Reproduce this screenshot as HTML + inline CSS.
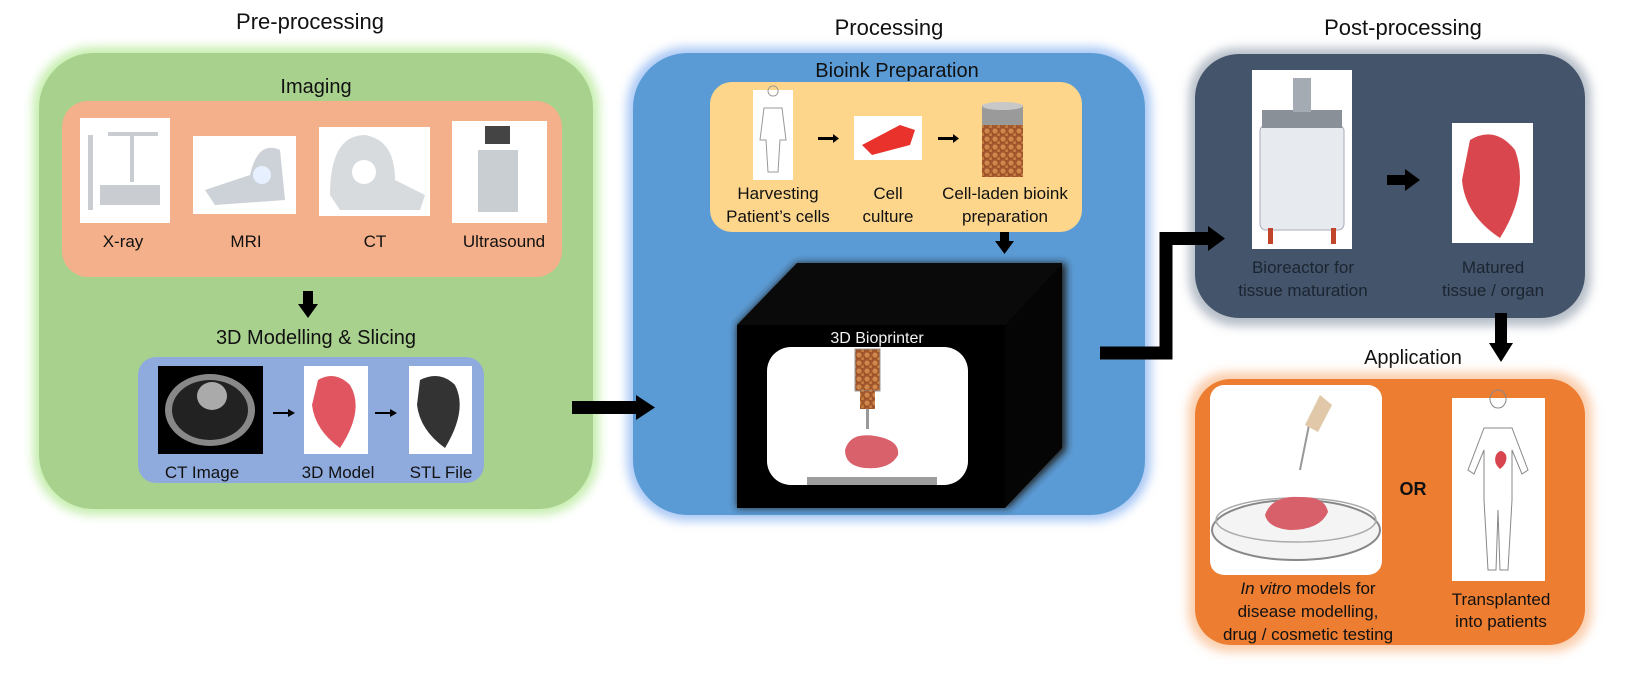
<!DOCTYPE html>
<html><head><meta charset="utf-8"><style>
html,body{margin:0;padding:0;background:#fff;}
svg{display:block;font-family:"Liberation Sans",sans-serif;}
</style></head><body>
<svg width="1630" height="680" viewBox="0 0 1630 680" xmlns="http://www.w3.org/2000/svg">
<defs>
<filter id="glow" x="-10%" y="-10%" width="120%" height="120%"><feGaussianBlur stdDeviation="5"/></filter>
<filter id="sh" x="-10%" y="-10%" width="120%" height="120%"><feGaussianBlur stdDeviation="4"/></filter>
<pattern id="cells" width="8" height="8" patternUnits="userSpaceOnUse"><rect width="8" height="8" fill="#a0562a"/><circle cx="3" cy="3" r="2.5" fill="#d0894d"/><circle cx="7" cy="7" r="2" fill="#c07a40"/></pattern>
</defs>

<!-- Titles -->
<text x="310" y="29" font-size="22" text-anchor="middle" fill="#111">Pre-processing</text>
<text x="889" y="35" font-size="22" text-anchor="middle" fill="#111">Processing</text>
<text x="1403" y="35" font-size="22" text-anchor="middle" fill="#111">Post-processing</text>

<!-- Green panel -->
<rect x="33" y="47" width="566" height="468" rx="60" fill="#c6eeae" filter="url(#glow)"/>
<rect x="39" y="53" width="554" height="456" rx="55" fill="#a9d18e"/>
<text x="316" y="93" font-size="20" text-anchor="middle" fill="#111">Imaging</text>
<rect x="62" y="101" width="500" height="176" rx="26" fill="#f4b08a"/>
<rect x="80" y="118" width="90" height="105" fill="#fff"/>
<g fill="#c9ccd0"><rect x="88" y="135" width="5" height="75"/><rect x="108" y="132" width="50" height="4"/><rect x="130" y="132" width="4" height="50"/><rect x="100" y="185" width="60" height="20"/></g>
<rect x="193" y="136" width="103" height="78" fill="#fff"/>
<path d="M205 190 L250 175 Q258 140 280 150 L285 200 L215 205 Z" fill="#cdd2d8"/><circle cx="262" cy="175" r="9" fill="#e6f0ff"/>
<rect x="319" y="127" width="111" height="89" fill="#fff"/>
<path d="M330 195 Q330 135 365 135 Q395 140 395 180 L425 195 L420 210 L340 210 Z" fill="#d8dbde"/><circle cx="364" cy="172" r="12" fill="#fff"/>
<rect x="452" y="121" width="95" height="102" fill="#fff"/>
<rect x="478" y="150" width="40" height="62" fill="#c9ced3"/><rect x="485" y="126" width="25" height="18" fill="#444"/>
<g font-size="17" text-anchor="middle" fill="#111"><text x="123" y="247">X-ray</text><text x="246" y="247">MRI</text><text x="375" y="247">CT</text><text x="504" y="247">Ultrasound</text></g>
<rect x="303" y="291" width="10" height="14" fill="#000"/><path d="M298 304 L318 304 L308 318 Z" fill="#000"/>
<text x="316" y="344" font-size="20" text-anchor="middle" fill="#111">3D Modelling &amp; Slicing</text>
<rect x="138" y="357" width="346" height="126" rx="18" fill="#8faadc"/>
<rect x="158" y="366" width="105" height="88" fill="#000"/>
<ellipse cx="210" cy="410" rx="45" ry="36" fill="#888"/><ellipse cx="210" cy="410" rx="38" ry="30" fill="#222"/><ellipse cx="212" cy="396" rx="15" ry="14" fill="#aaa"/>
<path d="M273 413 H290" stroke="#000" stroke-width="2"/><path d="M288 409 L295 413 L288 417Z"/>
<rect x="304" y="366" width="64" height="88" fill="#fff"/>
<path d="M318 380 Q335 370 350 385 Q365 410 340 448 Q315 430 312 405 Z" fill="#e05560"/>
<path d="M375 413 H392" stroke="#000" stroke-width="2"/><path d="M390 409 L397 413 L390 417Z"/>
<rect x="409" y="366" width="63" height="88" fill="#fff"/>
<path d="M420 380 Q440 370 455 385 Q468 410 445 448 Q420 430 417 405 Z" fill="#333"/>
<g font-size="17" text-anchor="middle" fill="#111"><text x="202" y="478">CT Image</text><text x="338" y="478">3D Model</text><text x="441" y="478">STL File</text></g>

<!-- Blue panel -->
<rect x="627" y="47" width="524" height="474" rx="60" fill="#a9c8f5" filter="url(#glow)"/>
<rect x="633" y="53" width="512" height="462" rx="55" fill="#5b9bd5"/>
<text x="897" y="77" font-size="20" text-anchor="middle" fill="#111">Bioink Preparation</text>
<rect x="710" y="82" width="372" height="150" rx="22" fill="#fdd68c"/>
<rect x="753" y="90" width="40" height="90" fill="#fff"/>
<path d="M773 96 a5 5 0 1 1 0.1 0 M764 108 H782 L786 140 H780 L778 172 H768 L766 140 H760Z" fill="none" stroke="#999" stroke-width="1"/>
<rect x="818" y="137" width="16" height="3" fill="#000"/><path d="M833 134 L839 138.5 L833 143Z"/>
<rect x="854" y="116" width="68" height="44" fill="#fff"/>
<path d="M862 145 L900 125 L915 130 L910 145 L872 155 Z" fill="#e8322b"/>
<rect x="938" y="137" width="16" height="3" fill="#000"/><path d="M953 134 L959 138.5 L953 143Z"/>
<rect x="982" y="105" width="41" height="20" fill="#9a9a9a"/><ellipse cx="1002.5" cy="106" rx="20.5" ry="4" fill="#c8c8c8"/><rect x="982" y="125" width="41" height="52" fill="url(#cells)"/>
<g font-size="17" text-anchor="middle" fill="#111"><text x="778" y="199">Harvesting</text><text x="778" y="222">Patient’s cells</text><text x="888" y="199">Cell</text><text x="888" y="222">culture</text><text x="1005" y="199">Cell-laden bioink</text><text x="1005" y="222">preparation</text></g>
<rect x="1000" y="232" width="9" height="11" fill="#000"/><path d="M995 241 L1014 241 L1004.5 254 Z" fill="#000"/>

<!-- Cube -->
<path d="M737 325 L797 263 L1066 263 L1066 450 L1008 508 L737 508 Z" fill="#222" filter="url(#sh)"/>
<path d="M737 325 L797 263 L1062 263 L1005 325 Z" fill="#0a0a0a"/>
<path d="M1005 325 L1062 263 L1062 448 L1005 508 Z" fill="#050505"/>
<rect x="737" y="325" width="268" height="183" fill="#000"/>
<text x="877" y="343" font-size="16" text-anchor="middle" fill="#f2f2f2">3D Bioprinter</text>
<rect x="767" y="347" width="201" height="138" rx="24" fill="#fff"/>
<rect x="855" y="349" width="25" height="42" fill="url(#cells)" stroke="#999"/>
<rect x="860" y="391" width="15" height="18" fill="url(#cells)"/>
<rect x="866" y="409" width="3" height="20" fill="#999"/>
<path d="M845 450 Q850 432 875 436 Q900 440 898 455 Q890 470 865 468 Q845 466 845 450Z" fill="#d9616b"/>
<rect x="807" y="477" width="130" height="8" fill="#9d9d9d"/>

<!-- Dark panel -->
<rect x="1189" y="48" width="402" height="278" rx="48" fill="#b5bdc7" filter="url(#glow)"/>
<rect x="1195" y="54" width="390" height="264" rx="44" fill="#44546a"/>
<rect x="1252" y="70" width="100" height="179" fill="#fff"/>
<rect x="1260" y="125" width="84" height="105" rx="6" fill="#e7ebef" stroke="#aab" stroke-width="1"/>
<rect x="1262" y="110" width="80" height="18" fill="#8a9098"/><rect x="1293" y="78" width="18" height="34" fill="#a5abb2"/>
<rect x="1268" y="228" width="5" height="16" fill="#c0452a"/><rect x="1331" y="228" width="5" height="16" fill="#c0452a"/>
<rect x="1387" y="175" width="20" height="10" fill="#000"/><path d="M1405 169 L1420 180 L1405 191 Z" fill="#000"/>
<rect x="1452" y="123" width="81" height="120" fill="#fff"/>
<path d="M1470 140 Q1495 125 1515 150 Q1530 190 1500 238 Q1465 215 1462 180 Z" fill="#d9464e"/>
<g font-size="17" text-anchor="middle" fill="#1b2431"><text x="1303" y="273">Bioreactor for</text><text x="1303" y="296">tissue maturation</text><text x="1493" y="273">Matured</text><text x="1493" y="296">tissue / organ</text></g>
<rect x="1495" y="313" width="12" height="32" fill="#000"/><path d="M1489 343 L1513 343 L1501 362 Z" fill="#000"/>
<text x="1413" y="364" font-size="20" text-anchor="middle" fill="#111">Application</text>

<!-- Application panel -->
<rect x="1188" y="372" width="404" height="280" rx="40" fill="#fbcfae" filter="url(#glow)"/>
<rect x="1195" y="379" width="390" height="266" rx="36" fill="#ed7d31"/>
<rect x="1210" y="385" width="172" height="190" rx="14" fill="#fff"/>
<ellipse cx="1296" cy="530" rx="84" ry="30" fill="#f4f4f4" stroke="#888" stroke-width="2"/>
<ellipse cx="1296" cy="520" rx="80" ry="22" fill="none" stroke="#aaa" stroke-width="1.5"/>
<path d="M1265 515 Q1272 495 1300 497 Q1325 496 1328 512 Q1320 530 1290 530 Q1268 528 1265 515Z" fill="#d8606a"/>
<path d="M1300 470 L1310 420" stroke="#999" stroke-width="2"/><path d="M1305 425 L1320 395 L1332 405 L1318 432Z" fill="#e1c8a8"/>
<text x="1413" y="495" font-size="18" text-anchor="middle" font-weight="bold" fill="#111">OR</text>
<rect x="1452" y="398" width="93" height="183" fill="#fff"/>
<path d="M1498 408 a8 9 0 1 1 0.1 0 M1484 428 H1512 L1528 470 L1522 474 L1512 450 L1512 500 L1508 570 H1500 L1498 510 L1496 570 H1488 L1484 500 L1484 450 L1474 474 L1468 470 Z" fill="none" stroke="#888" stroke-width="1"/>
<path d="M1496 455 q5 -8 10 0 q2 8 -6 14 q-7 -6 -4 -14Z" fill="#d8454e"/>
<g font-size="17" text-anchor="middle" fill="#111"><text x="1308" y="594"><tspan font-style="italic">In vitro</tspan> models for</text><text x="1308" y="617">disease modelling,</text><text x="1308" y="640">drug / cosmetic testing</text><text x="1501" y="605">Transplanted</text><text x="1501" y="627">into patients</text></g>

<!-- Connectors on top -->
<rect x="572" y="401" width="66" height="13" fill="#000"/><path d="M636 395 L655 407.5 L636 420 Z" fill="#000"/>
<path d="M1100 353 H1166 V238.5 H1210" fill="none" stroke="#000" stroke-width="13"/>
<path d="M1208 226 L1225 238.5 L1208 251 Z" fill="#000"/>
</svg>
</body></html>
